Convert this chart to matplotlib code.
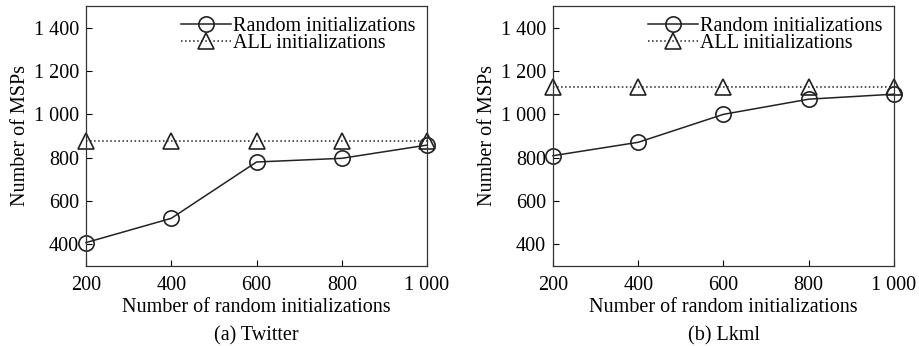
import numpy as np
import matplotlib.pyplot as plt
from matplotlib.ticker import FuncFormatter

plt.rcParams['font.family'] = ['Liberation Serif', 'DejaVu Serif']
plt.rcParams['mathtext.fontset'] = 'stix'

x = [200, 400, 600, 800, 1000]

twitter_random = [408, 520, 780, 797, 858]
twitter_all = [877, 877, 877, 877, 877]

lkml_random = [809, 871, 1000, 1070, 1093]
lkml_all = [1127, 1127, 1127, 1127, 1127]

captions = ["(a) Twitter", "(b) Lkml"]


def thousands(v, pos):
    v = int(round(v))
    if v >= 1000:
        return "%d %03d" % (v // 1000, v % 1000)
    return str(v)


fig = plt.figure(figsize=(9.2, 3.46), dpi=100)
boxes = [[86 / 920, 80 / 346, 341 / 920, 260 / 346],
         [553 / 920, 80 / 346, 341 / 920, 260 / 346]]
data = [(twitter_random, twitter_all), (lkml_random, lkml_all)]
fs = 14.5

for box, (rnd, allv), cap in zip(boxes, data, captions):
    ax = fig.add_axes(box)
    ax.plot(x, rnd, '-', color='#222222', lw=1.1, marker='o', ms=11,
            mfc='none', mec='#222222', mew=1.2, clip_on=False,
            label='Random initializations')
    ax.plot(x, allv, ':', color='#222222', lw=1.1, marker='^', ms=11,
            mfc='none', mec='#222222', mew=1.2, clip_on=False,
            label='ALL initializations')
    ax.set_xlim(200, 1000)
    ax.set_ylim(300, 1500)
    ax.set_xticks(x)
    ax.set_yticks([400, 600, 800, 1000, 1200, 1400])
    ax.xaxis.set_major_formatter(FuncFormatter(thousands))
    ax.yaxis.set_major_formatter(FuncFormatter(thousands))
    ax.tick_params(direction='in', length=4, labelsize=fs, pad=5)
    ax.tick_params(axis='x', pad=7)
    for s in ax.spines.values():
        s.set_linewidth(0.9)
        s.set_color('#333333')
    ax.set_xlabel("Number of random initializations", fontsize=fs, labelpad=2)
    ax.set_ylabel("Number of MSPs", fontsize=fs, labelpad=3)
    ax.legend(loc='upper right', frameon=False, fontsize=fs, handlelength=2.5,
              handletextpad=0.1, labelspacing=-0.1, borderaxespad=0.3,
              borderpad=0.25)
    ax.text(0.5, -0.27, cap, transform=ax.transAxes, ha='center',
            va='center', fontsize=fs)

fig.savefig("out.png", dpi=100)
